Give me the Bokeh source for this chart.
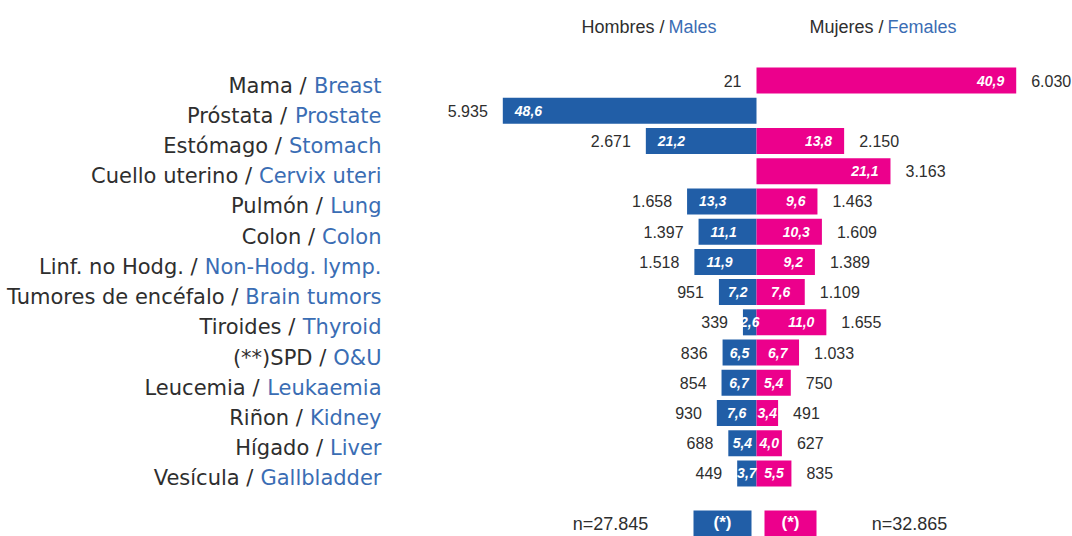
from bokeh.plotting import figure
from bokeh.models import ColumnDataSource, Range1d, Label, BoxAnnotation
from bokeh.core.properties import value
from bokeh.embed import file_html
from bokeh.resources import INLINE

# ---------------- data ----------------
sites_es = ["Mama /", "Próstata /", "Estómago /", "Cuello uterino /", "Pulmón /",
            "Colon /", "Linf. no Hodg. /", "Tumores de encéfalo /", "Tiroides /",
            "(**)SPD /", "Leucemia /", "Riñon /", "Hígado /", "Vesícula /"]
sites_en = ["Breast", "Prostate", "Stomach", "Cervix uteri", "Lung", "Colon",
            "Non-Hodg. lymp.", "Brain tumors", "Thyroid", "O&U", "Leukaemia",
            "Kidney", "Liver", "Gallbladder"]
male_rate = [None, 48.6, 21.2, None, 13.3, 11.1, 11.9, 7.2, 2.6, 6.5, 6.7, 7.6, 5.4, 3.7]
female_rate = [40.9, None, 13.8, 21.1, 9.6, 10.3, 9.2, 7.6, 11.0, 6.7, 5.4, 3.4, 4.0, 5.5]
male_n = [21, 5935, 2671, None, 1658, 1397, 1518, 951, 339, 836, 854, 930, 688, 449]
female_n = [6030, None, 2150, 3163, 1463, 1609, 1389, 1109, 1655, 1033, 750, 491, 627, 835]
male_total = "n=27.845"
female_total = "n=32.865"
header_m = ("Hombres /", "Males")
header_f = ("Mujeres /", "Females")

# ---------------- styles / layout ----------------
BLUE = "#215ea7"
PINK = "#ec008c"
TXT = "#2e2e2e"
LBLUE = "#3a6db4"
SANS = "Liberation Sans"
LABEL_FONT = "DejaVu Sans"

W, H = 1072, 536
CENTER = 756           # px of the zero line
SM, SF = 5.22, 6.35    # px per unit, males / females
ROW0, ROWH = 80, 30.23 # px of first row centre, row pitch

def X(px):  # px -> male data units
    return (px - CENTER) / SM

def Y(py):  # py -> row units
    return (py - ROW0) / ROWH

DV = {' ': .318, '.': .318, '-': .361, '&': .780, '/': .337,
      'A': .684, 'B': .686, 'C': .698, 'D': .770, 'G': .775, 'H': .752, 'K': .656,
      'L': .557, 'N': .748, 'O': .787, 'P': .603, 'S': .635, 'T': .611, 'U': .732,
      'a': .613, 'b': .635, 'c': .550, 'd': .635, 'e': .615, 'f': .352, 'g': .635,
      'h': .634, 'i': .278, 'k': .579, 'l': .278, 'm': .974, 'n': .634, 'o': .612,
      'p': .635, 'r': .411, 's': .521, 't': .392, 'u': .634, 'v': .592, 'x': .592,
      'y': .592}
LSIZE = 21

def textw(s):
    return sum(DV.get(c, 0.6) for c in s) * LSIZE

p = figure(width=W, height=H, output_backend="svg", toolbar_location=None,
           x_range=Range1d(-CENTER / SM, (W - CENTER) / SM),
           y_range=Range1d((H - ROW0) / ROWH, -ROW0 / ROWH),
           x_axis_location=None, y_axis_location=None, min_border=0,
           outline_line_color=None, background_fill_color="white",
           border_fill_color="white")
p.extra_x_ranges["f"] = Range1d(-CENTER / SF, (W - CENTER) / SF)
p.grid.visible = False

idx = list(range(len(sites_es)))

# ---- bars ----
mrows = [i for i in idx if male_rate[i] is not None]
frows = [i for i in idx if female_rate[i] is not None]
msrc = ColumnDataSource(dict(y=mrows, left=[-male_rate[i] for i in mrows]))
fsrc = ColumnDataSource(dict(y=frows, right=[female_rate[i] for i in frows]))
p.hbar(y="y", left="left", right=0, height=0.86, source=msrc,
       fill_color=BLUE, line_color=None)
p.hbar(y="y", left=0, right="right", height=0.86, source=fsrc,
       fill_color=PINK, line_color=None, x_range_name="f")

def fmt_n(n):
    return f"{n:,}".replace(",", ".")

def fmt_r(r):
    return f"{r:.1f}".replace(".", ",")

# ---- inner rate labels ----
THR = 8.0
for rows, rates, sign, rng in ((mrows, male_rate, -1, "default"), (frows, female_rate, 1, "f")):
    big = [i for i in rows if rates[i] >= THR]
    small = [i for i in rows if rates[i] < THR]
    src_b = ColumnDataSource(dict(x=[sign * rates[i] for i in big], y=big,
                                  t=[fmt_r(rates[i]) for i in big]))
    src_s = ColumnDataSource(dict(x=[sign * rates[i] / 2 for i in small], y=small,
                                  t=[fmt_r(rates[i]) for i in small]))
    p.text(x="x", y="y", text="t", source=src_b, x_range_name=rng,
           x_offset=12 if sign < 0 else -12,
           text_align="left" if sign < 0 else "right", text_baseline="middle",
           text_color="white", text_font=value(SANS), text_font_size="14px",
           text_font_style="bold italic")
    p.text(x="x", y="y", text="t", source=src_s, x_range_name=rng,
           text_align="center", text_baseline="middle",
           text_color="white", text_font=value(SANS), text_font_size="14px",
           text_font_style="bold italic")

# ---- outer count labels ----
mc = [i for i in idx if male_n[i] is not None]
fc = [i for i in idx if female_n[i] is not None]
p.text(x=[-(male_rate[i] or 0) for i in mc], y=mc, text=[fmt_n(male_n[i]) for i in mc],
       x_offset=-15, text_align="right", text_baseline="middle", text_color=TXT,
       text_font=value(SANS), text_font_size="16px")
p.text(x=[(female_rate[i] or 0) for i in fc], y=fc, text=[fmt_n(female_n[i]) for i in fc],
       x_offset=15, text_align="left", text_baseline="middle", text_color=TXT,
       text_font=value(SANS), text_font_size="16px", x_range_name="f")

# ---- category labels (Spanish dark / English blue) ----
RIGHT = 381
p.text(x=[X(RIGHT)] * len(idx), y=idx, text=sites_en, text_align="right", y_offset=5,
       text_baseline="middle", text_color=LBLUE, text_font=value(LABEL_FONT),
       text_font_size=f"{LSIZE}px")
p.text(x=[X(RIGHT - textw(s) - 7) for s in sites_en], y=idx, text=sites_es, y_offset=5,
       text_align="right", text_baseline="middle", text_color=TXT,
       text_font=value(LABEL_FONT), text_font_size=f"{LSIZE}px")

# ---- headers ----
for (es, en), xs in ((header_m, 664), (header_f, 883)):
    p.add_layout(Label(x=X(xs), y=Y(26), text=es, text_align="right",
                       text_baseline="middle", text_color=TXT,
                       text_font=SANS, text_font_size="18px"))
    p.add_layout(Label(x=X(xs + 4), y=Y(26), text=en, text_align="left",
                       text_baseline="middle", text_color=LBLUE,
                       text_font=SANS, text_font_size="18px"))

# ---- bottom legend ----
for l, r, c in ((693, 751, BLUE), (764, 816, PINK)):
    p.add_layout(BoxAnnotation(left=X(l), right=X(r), top=Y(510), bottom=Y(536),
                               fill_color=c, fill_alpha=1.0, line_color=None,
                               level="underlay"))
    p.add_layout(Label(x=X((l + r) / 2), y=Y(522), text="(*)", text_align="center",
                       text_baseline="middle", text_color="white",
                       text_font=SANS, text_font_size="17px", text_font_style="bold"))
p.add_layout(Label(x=X(610), y=Y(523), text=male_total, text_align="center",
                   text_baseline="middle", text_color=TXT, text_font=SANS,
                   text_font_size="18px"))
p.add_layout(Label(x=X(909), y=Y(523), text=female_total, text_align="center",
                   text_baseline="middle", text_color=TXT, text_font=SANS,
                   text_font_size="18px"))

open("out.html", "w").write(file_html(p, INLINE))
